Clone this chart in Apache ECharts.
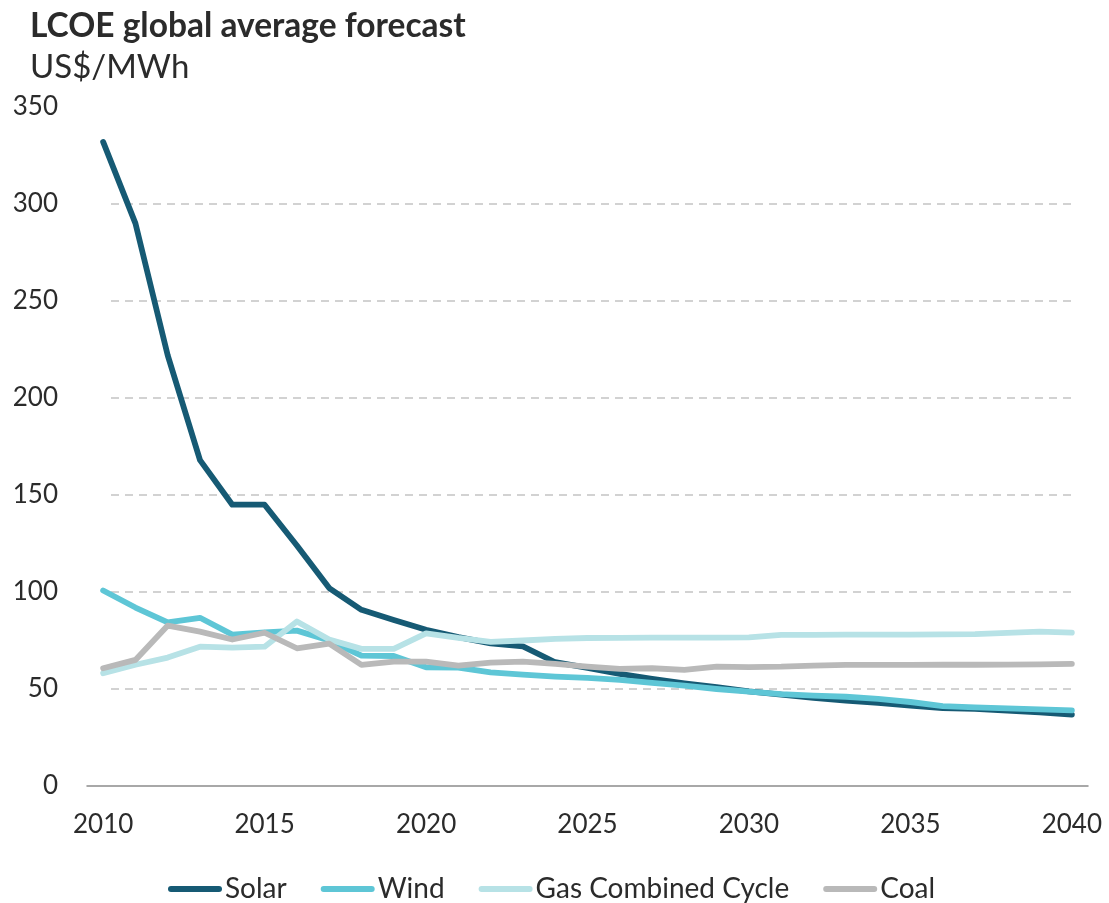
<!DOCTYPE html>
<html>
<head>
<meta charset="utf-8">
<script src="https://cdn.jsdelivr.net/npm/echarts@6/dist/echarts.min.js"></script>
<style>
html,body{margin:0;padding:0;background:#fff;}
#chart{width:1109px;height:903px;}
</style>
</head>
<body>
<div id="chart"></div>
<script>
const years = ["2010","2011","2012","2013","2014","2015","2016","2017","2018","2019","2020",
  "2021","2022","2023","2024","2025","2026","2027","2028","2029","2030",
  "2031","2032","2033","2034","2035","2036","2037","2038","2039","2040"];
const solar = [332,290,222,168,145,145,124,102,90.8,85.6,80.5,
  76.7,73.5,72,63.8,60.9,57.8,55.2,52.9,50.9,48.8,
  47.1,45.4,44,42.8,41.4,40.2,39.8,38.8,38,36.8];
const wind = [100.8,92,84.3,86.7,78,79.2,80.1,75,67.2,67,61.2,
  61,58.6,57.4,56.4,55.7,54.7,53.1,51.7,50,48.6,
  47.4,46.6,46,44.9,43.3,41.2,40.5,40,39.5,39];
const gas = [58.1,62.5,66.2,71.8,71.3,71.8,84.8,75.5,70.7,70.7,78.7,
  76.3,74.3,75,75.8,76.3,76.4,76.5,76.5,76.5,76.6,
  77.9,77.9,78,78,78,78.2,78.3,78.9,79.6,79.1];
const coal = [60.7,65,82.7,79.6,75.5,79,71,73.4,62.4,64.1,64.1,
  62.1,63.6,64.1,62.9,61.5,60.4,60.7,59.9,61.5,61.3,
  61.5,62.1,62.4,62.4,62.4,62.5,62.5,62.6,62.7,63];
const seriesNames = ["Solar","Wind","Gas Combined Cycle","Coal"];
const yTicks = [0,50,100,150,200,250,300,350];
const gridTicks = [50,100,150,200,250,300];

const colors = ["#165a74","#5ec6d6","#b7e2e6","#b9b9b9"];
const FONT = "Lato";
const pill = 'path://M3,0 L51,0 A3,3 0 0 1 51,6 L3,6 A3,3 0 0 1 3,0 Z';

const chart = echarts.init(document.getElementById('chart'), null, {renderer:'canvas'});
const dataSets = [solar, wind, gas, coal];
chart.setOption({
  animation:false,
  backgroundColor:'#ffffff',
  textStyle:{fontFamily:FONT},
  title:[
    {text:'LCOE global average forecast', left:25, top:4,
     textStyle:{fontFamily:FONT, fontWeight:'bold', fontSize:33.5, color:'#2b2b2b'}},
    {text:'US$/MWh', left:25, top:46,
     textStyle:{fontFamily:FONT, fontWeight:'normal', fontSize:33, color:'#2b2b2b'}}
  ],
  legend:{
    left:163, top:870,
    itemWidth:54, itemHeight:6, itemGap:34,
    icon:pill,
    textStyle:{fontFamily:FONT, fontSize:28, color:'#2b2b2b', padding:[0,0,0,-2]},
    data:seriesNames
  },
  grid:[
    {left:87, right:21, top:107, bottom:117, containLabel:false},
    {left:111, right:37, top:204, bottom:214, containLabel:false}
  ],
  xAxis:[
    {type:'category', gridIndex:0, data:years, boundaryGap:true,
     axisLine:{show:true, lineStyle:{color:'#8c8c8c', width:1.5}},
     axisTick:{show:false},
     axisLabel:{interval:4, margin:26, fontFamily:FONT, fontSize:26, color:'#2b2b2b'},
     splitLine:{show:false}},
    {type:'category', gridIndex:1, data:years, show:false}
  ],
  yAxis:[
    {type:'value', gridIndex:0, min:yTicks[0], max:yTicks[yTicks.length-1], interval:50,
     axisLine:{show:false}, axisTick:{show:false},
     axisLabel:{margin:29, fontFamily:FONT, fontSize:26, color:'#2b2b2b'},
     splitLine:{show:false}},
    {type:'value', gridIndex:1, min:gridTicks[0], max:gridTicks[gridTicks.length-1], interval:50,
     axisLine:{show:false}, axisTick:{show:false}, axisLabel:{show:false},
     splitLine:{show:true, lineStyle:{color:'#c4c4c4', type:[8,6], width:1.5}}}
  ],
  series:dataSets.map((d,i)=>({
    name:seriesNames[i], type:'line', xAxisIndex:0, yAxisIndex:0,
    data:d, symbol:'none', showSymbol:false,
    lineStyle:{color:colors[i], width:5.8, cap:'round', join:'round'},
    itemStyle:{color:colors[i]},
    z:2+i
  }))
});
</script>
</body>
</html>
